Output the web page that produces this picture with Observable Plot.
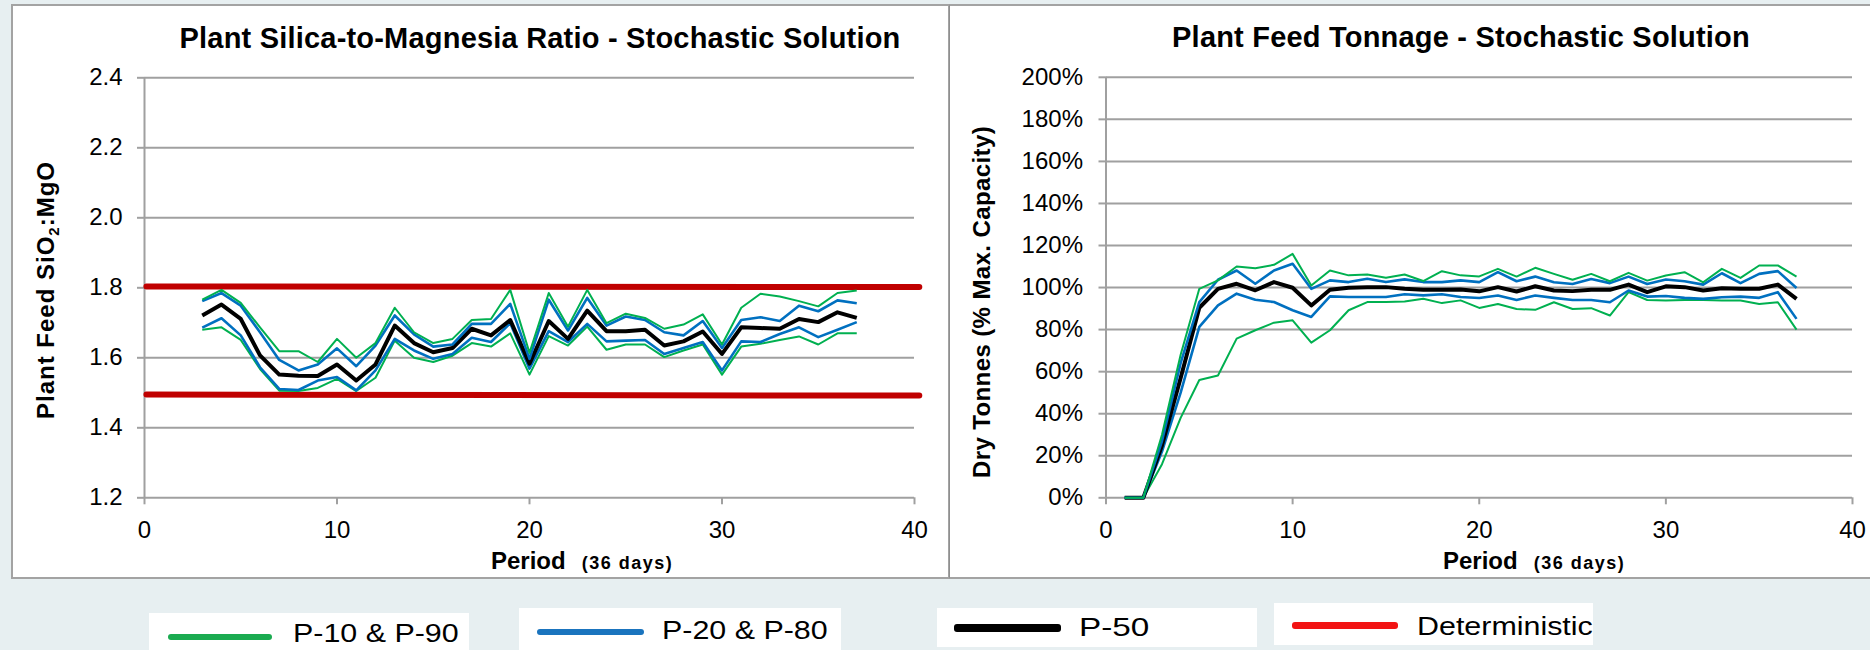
<!DOCTYPE html>
<html>
<head>
<meta charset="utf-8">
<script src="https://cdn.jsdelivr.net/npm/d3@7"></script>
<script src="https://cdn.jsdelivr.net/npm/@observablehq/plot@0.6"></script>
<style>
  html, body { margin: 0; padding: 0; }
  body { background: #e7eff1; width: 1870px; height: 650px; overflow: hidden; position: relative;
         font-family: "Liberation Sans", Arial, sans-serif; color: #000; }
  .abs { position: absolute; white-space: nowrap; }
  .panel { position: absolute; background: #fff; box-sizing: border-box; }
  .title { font-weight: bold; font-size: 29px; line-height: 29px; transform: translateX(-50%); }
  .ylab { font-weight: bold; font-size: 24px; line-height: 24px; transform: translate(-50%, -50%) rotate(-90deg); }
  .xlab { font-weight: bold; font-size: 24px; line-height: 24px; }
  .xlab .small { font-size: 18px; letter-spacing: 1.5px; margin-left: 16px; }
  .lbox { position: absolute; background: #fff; }
  .sw { position: absolute; border-radius: 3px; }
  .lt { position: absolute; font-size: 26px; line-height: 26px; transform-origin: left center; transform: scaleX(1.17); white-space: nowrap; }
</style>
</head>
<body>
<div class="panel" style="left:11px;top:4px;width:939px;height:575px;border:2px solid #a3a3a3;"></div>
<div class="panel" style="left:949px;top:4px;width:940px;height:575px;border:2px solid #a3a3a3;border-left:1px solid #8f8f8f;"></div>

<div id="left" class="abs" style="left:0;top:0;width:950px;height:578px;"></div>
<div id="right" class="abs" style="left:950px;top:0;width:920px;height:578px;"></div>

<div class="abs title" style="left:540px;top:24px;letter-spacing:0.2px;">Plant Silica-to-Magnesia Ratio - Stochastic Solution</div>
<div class="abs title" style="left:1461px;top:23px;letter-spacing:0.2px;">Plant Feed Tonnage - Stochastic Solution</div>

<div class="abs ylab" style="left:50px;top:290px;letter-spacing:1px;">Plant Feed SiO<sub style="font-size:15px;">2</sub>:MgO</div>
<div class="abs ylab" style="left:982px;top:302px;letter-spacing:0.4px;">Dry Tonnes (% Max. Capacity)</div>

<div class="abs xlab" style="left:491px;top:549px;">Period<span class="small">(36 days)</span></div>
<div class="abs xlab" style="left:1443px;top:549px;">Period<span class="small">(36 days)</span></div>

<!-- legend -->
<div class="lbox" style="left:149px;top:613px;width:320px;height:45px;"></div>
<div class="sw" style="left:168px;top:634px;width:104px;height:6px;background:#1aab50;"></div>
<div class="lt" style="left:293px;top:620px;">P-10 &amp; P-90</div>

<div class="lbox" style="left:519px;top:608px;width:322px;height:45px;"></div>
<div class="sw" style="left:537px;top:629px;width:107px;height:6px;background:#1a74be;"></div>
<div class="lt" style="left:662px;top:617px;">P-20 &amp; P-80</div>

<div class="lbox" style="left:937px;top:608px;width:320px;height:39px;"></div>
<div class="sw" style="left:954px;top:624px;width:107px;height:8px;background:#000;"></div>
<div class="lt" style="left:1079px;top:614px;transform:scaleX(1.28);">P-50</div>

<div class="lbox" style="left:1274px;top:603px;width:319px;height:42px;"></div>
<div class="sw" style="left:1292px;top:622px;width:106px;height:7px;background:#f21414;"></div>
<div class="lt" style="left:1417px;top:613px;">Deterministic</div>

<script>
// ---------- data ----------
const xTicks = [0, 10, 20, 30, 40];

// Plant silica-to-magnesia ratio (periods 3..37)
const silicaPeriods = [3,4,5,6,7,8,9,10,11,12,13,14,15,16,17,18,19,20,21,22,23,24,25,26,27,28,29,30,31,32,33,34,35,36,37];
const silicaP90 = [1.766,1.794,1.757,1.687,1.619,1.619,1.588,1.654,1.600,1.642,1.743,1.673,1.642,1.654,1.708,1.711,1.794,1.614,1.785,1.689,1.794,1.699,1.726,1.714,1.683,1.695,1.724,1.638,1.743,1.783,1.775,1.762,1.747,1.785,1.792];
const silicaP80 = [1.762,1.785,1.749,1.673,1.594,1.564,1.581,1.627,1.576,1.635,1.721,1.667,1.632,1.638,1.697,1.697,1.754,1.597,1.766,1.678,1.771,1.692,1.718,1.708,1.673,1.664,1.705,1.628,1.708,1.716,1.705,1.749,1.733,1.764,1.756];
const silicaP50 = [1.721,1.752,1.711,1.607,1.552,1.549,1.548,1.581,1.535,1.581,1.692,1.642,1.616,1.628,1.683,1.664,1.708,1.583,1.705,1.654,1.735,1.676,1.676,1.680,1.635,1.647,1.675,1.611,1.687,1.685,1.683,1.711,1.702,1.730,1.714];
const silicaP20 = [1.686,1.713,1.664,1.573,1.511,1.508,1.535,1.545,1.507,1.564,1.654,1.621,1.597,1.611,1.657,1.645,1.699,1.569,1.676,1.645,1.697,1.647,1.649,1.651,1.611,1.628,1.645,1.564,1.647,1.645,1.668,1.687,1.659,1.680,1.702];
const silicaP10 = [1.680,1.687,1.651,1.568,1.506,1.505,1.514,1.540,1.505,1.543,1.649,1.600,1.588,1.606,1.642,1.632,1.670,1.552,1.662,1.635,1.689,1.623,1.638,1.638,1.602,1.621,1.638,1.552,1.632,1.640,1.651,1.661,1.638,1.670,1.670];
const deterministicPeriods = [0.1, 40.25];
const deterministicUpper = [1.804, 1.802];
const deterministicLower = [1.495, 1.492];
const silicaYTicks = [1.2, 1.4, 1.6, 1.8, 2.0, 2.2, 2.4];

// Plant feed tonnage, % of max capacity (periods 1..37)
const tonnagePeriods = [1,2,3,4,5,6,7,8,9,10,11,12,13,14,15,16,17,18,19,20,21,22,23,24,25,26,27,28,29,30,31,32,33,34,35,36,37];
const tonnageP90 = [0,0,30,68,99.4,103.4,110,109.2,110.8,116,101,108.1,105.8,106.2,104.7,106.2,103.1,107.8,105.8,105.3,108.9,105.2,109.4,106.5,103.7,106.5,103,107,103.3,105.7,107.3,102.5,108.9,104.6,110.5,110.5,105.2];
const tonnageP80 = [0,0,27,64,93.1,103.7,108.1,101.8,108.1,111.3,99.4,103.4,102.6,104.2,102.6,103.9,102.6,102.6,103.4,102.6,107.3,103,105.2,102.5,101.7,104.1,102.1,105.2,101.7,103.8,103,101.4,106.8,102.1,106.5,107.8,99.8];
const tonnageP50 = [0,0,25,57,90.4,99.4,101.8,98.7,102.6,99.9,91.5,99,99.9,100.2,100.2,99.4,99,99,99.1,98.2,100.2,98.1,100.6,98.6,98.3,98.9,98.9,101.4,97.8,100.6,100.2,98.6,99.7,99.4,99.4,101.4,94.6];
const tonnageP20 = [0,0,22,50,81.3,91.5,97.1,94.2,93.1,89.2,86,95.8,95.5,95.5,95.5,96.8,96.3,96.8,95.5,95,96.2,94.1,96.2,95.1,94.1,94.1,93,98.6,95.7,96,95.1,94.6,95.4,95.7,95.1,97.8,85.1];
const tonnageP10 = [0,0,16,38,56,58.2,75.7,79.7,83.3,84.4,73.8,79.7,89.2,93.1,93.1,93.4,94.7,92.6,93.9,90.3,92.2,89.8,89.4,93,89.8,90.2,86.7,97.8,94.1,93.8,94.1,94.1,93.8,93.8,92.2,93,80];
const tonnageYTicks = [0, 20, 40, 60, 80, 100, 120, 140, 160, 180, 200];

// ---------- drawing ----------
const GRID = "#a0a0a0";
const GREEN = "#00b050", BLUE = "#0070c0", BLACK = "#000000", RED = "#c00000";
const FONT = '"Liberation Sans", Arial, sans-serif';

function rows(xs, ys) { return xs.map((x, i) => ({x, y: ys[i]})); }

function makeChart(cfg) {
  const marks = [
    Plot.ruleY(cfg.yTicks, {stroke: GRID, strokeWidth: 2}),
    Plot.ruleX([0], {stroke: GRID, strokeWidth: 2}),
    Plot.axisY({ticks: cfg.yTicks, tickSize: 7, tickPadding: cfg.yPad, stroke: GRID, strokeWidth: 2,
                fill: "#000", fontSize: 24, tickFormat: cfg.yFormat, label: null}),
    Plot.axisX({ticks: xTicks, tickSize: 7, tickPadding: 16, stroke: GRID, strokeWidth: 2,
                fill: "#000", fontSize: 24, tickFormat: d => String(d), label: null}),
    ...(cfg.extra || [])
  ];
  for (const s of cfg.series) {
    marks.push(Plot.line(rows(cfg.periods, s.values), {x: "x", y: "y", stroke: s.color, strokeWidth: s.width,
      strokeLinejoin: "round", strokeLinecap: "butt"}));
  }
  return Plot.plot({
    width: cfg.width, height: 578,
    marginLeft: cfg.marginLeft, marginRight: cfg.marginRight, marginTop: cfg.marginTop, marginBottom: cfg.marginBottom,
    x: {domain: [0, 40]},
    y: {domain: cfg.yDomain},
    style: {background: "transparent", overflow: "visible", fontFamily: FONT, fontSize: "24px", color: "#000"},
    marks
  });
}

const left = makeChart({
  width: 950, marginLeft: 144, marginRight: 36, marginTop: 77.3, marginBottom: 80.7,
  yDomain: [1.2, 2.4], yTicks: silicaYTicks, yFormat: d3.format(".1f"), yPad: 15,
  periods: silicaPeriods,
  extra: [
    Plot.line(rows(deterministicPeriods, deterministicUpper), {x: "x", y: "y", stroke: RED, strokeWidth: 6}),
    Plot.line(rows(deterministicPeriods, deterministicLower), {x: "x", y: "y", stroke: RED, strokeWidth: 6})
  ],
  series: [
    {values: silicaP10, color: GREEN, width: 2},
    {values: silicaP20, color: BLUE, width: 2.6},
    {values: silicaP50, color: BLACK, width: 4},
    {values: silicaP80, color: BLUE, width: 2.6},
    {values: silicaP90, color: GREEN, width: 2}
  ]
});
document.getElementById("left").appendChild(left);

const right = makeChart({
  width: 920, marginLeft: 155.5, marginRight: 18, marginTop: 76.8, marginBottom: 80.7,
  yDomain: [0, 200], yTicks: tonnageYTicks, yFormat: d => d + "%", yPad: 16,
  periods: tonnagePeriods,
  series: [
    {values: tonnageP10, color: GREEN, width: 2},
    {values: tonnageP20, color: BLUE, width: 2.6},
    {values: tonnageP50, color: BLACK, width: 4},
    {values: tonnageP80, color: BLUE, width: 2.6},
    {values: tonnageP90, color: GREEN, width: 2}
  ]
});
document.getElementById("right").appendChild(right);
</script>
</body>
</html>
